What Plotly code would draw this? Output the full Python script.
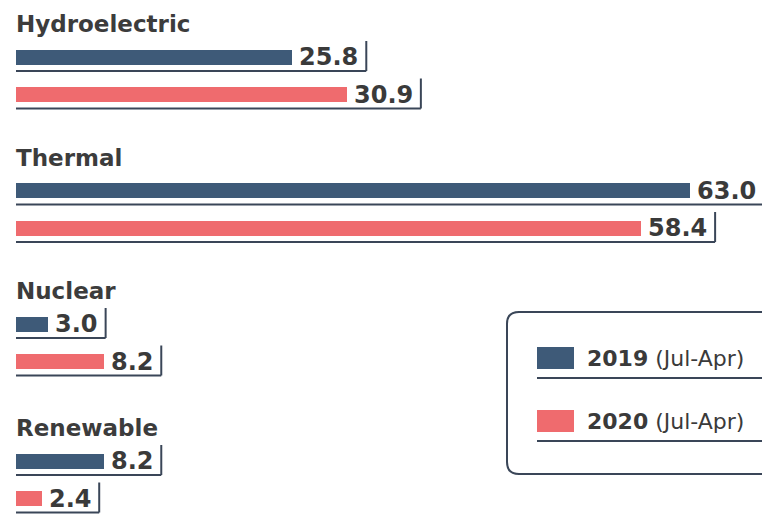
import plotly.graph_objects as go

# ---- data ----
categories = ["Hydroelectric", "Thermal", "Nuclear", "Renewable"]
values_2019 = [25.8, 63.0, 3.0, 8.2]
values_2020 = [30.9, 58.4, 8.2, 2.4]
series_names = ["2019", "2020"]
series_suffix = "(Jul-Apr)"

# ---- style / layout constants ----
W, H = 762, 516
BLUE = "#3e5a78"
RED = "#ef6b6e"
LINE = "#3a4658"
TEXT = "#3a3a3a"
FONT = "DejaVu Sans"
X0_PX = 16          # pixel where value 0 sits
S = 10.70           # pixels per unit
group_base = [24, 157.5, 291, 428]   # title centre (px from top)
OFF = [33, 70.5]                     # bar centre offsets below title
BAR_H = 15
LABEL_SIZE = 24

char_w = {d: 0.696 for d in "0123456789"}
char_w["."] = 0.380


def label_width(s):
    return sum(char_w.get(c, 0.6) for c in s) * LABEL_SIZE


def pxx(x):
    return x / W


def pxy(y):
    return 1 - y / H


fig = go.Figure()
series = [values_2019, values_2020]
colors = [BLUE, RED]
annotations = []
shapes = []

for si, vals in enumerate(series):
    ys = [group_base[i] + OFF[si] for i in range(len(categories))]
    fig.add_trace(go.Bar(
        x=vals, y=ys, orientation="h", width=BAR_H,
        marker=dict(color=colors[si], line=dict(width=0)),
        name=series_names[si], showlegend=False, hoverinfo="skip",
    ))
    for v, y in zip(vals, ys):
        txt = f"{v:.1f}"
        annotations.append(dict(
            x=v, y=y, xref="x", yref="y", text=f"<b>{txt}</b>",
            showarrow=False, xanchor="left", yanchor="middle", xshift=5,
            font=dict(family=FONT, size=LABEL_SIZE, color=TEXT),
        ))
        tick_x = v + (7 + label_width(txt) + 8) / S
        # underline
        shapes.append(dict(type="line", xref="x", yref="y",
                           x0=0, x1=tick_x, y0=y + 14, y1=y + 14,
                           line=dict(color=LINE, width=2)))
        # end tick
        shapes.append(dict(type="line", xref="x", yref="y",
                           x0=tick_x, x1=tick_x, y0=y - 16, y1=y + 14,
                           line=dict(color=LINE, width=2)))

for i, c in enumerate(categories):
    annotations.append(dict(
        x=0, y=group_base[i], xref="x", yref="y", text=f"<b>{c}</b>",
        showarrow=False, xanchor="left", yanchor="middle", xshift=-2,
        font=dict(family=FONT, size=23, color="#3c3c3c"),
    ))

# ---- legend box (rounded rect, right side clipped) ----
bx0, by0, bx1, by1, r = 507, 312, 800, 474, 12
rx, ry = r / W, r / H
path = (f"M {pxx(bx1)},{pxy(by0)} L {pxx(bx0)+rx},{pxy(by0)} "
        f"Q {pxx(bx0)},{pxy(by0)} {pxx(bx0)},{pxy(by0)-ry} "
        f"L {pxx(bx0)},{pxy(by1)+ry} "
        f"Q {pxx(bx0)},{pxy(by1)} {pxx(bx0)+rx},{pxy(by1)} "
        f"L {pxx(bx1)},{pxy(by1)}")
shapes.append(dict(type="path", xref="paper", yref="paper", path=path,
                   line=dict(color=LINE, width=2)))

leg_y = [358, 421]
for k, name in enumerate(series_names):
    cy = leg_y[k]
    shapes.append(dict(type="rect", xref="paper", yref="paper",
                       x0=pxx(537), x1=pxx(574), y0=pxy(cy - 11), y1=pxy(cy + 11),
                       fillcolor=colors[k], line=dict(width=0)))
    shapes.append(dict(type="line", xref="paper", yref="paper",
                       x0=pxx(537), x1=pxx(W), y0=pxy(cy + 20), y1=pxy(cy + 20),
                       line=dict(color=LINE, width=2)))
    annotations.append(dict(
        x=pxx(585), y=pxy(cy), xref="paper", yref="paper",
        text=f"<b>{name}</b> {series_suffix}", showarrow=False,
        xanchor="left", yanchor="middle",
        font=dict(family=FONT, size=22, color=TEXT),
    ))

fig.update_layout(
    width=W, height=H, margin=dict(l=0, r=0, t=0, b=0),
    paper_bgcolor="white", plot_bgcolor="white",
    xaxis=dict(range=[-X0_PX / S, (W - X0_PX) / S], visible=False, fixedrange=True),
    yaxis=dict(range=[H, 0], visible=False, fixedrange=True),
    shapes=shapes, annotations=annotations, bargap=0, showlegend=False,
)

fig.write_html("out.html")
